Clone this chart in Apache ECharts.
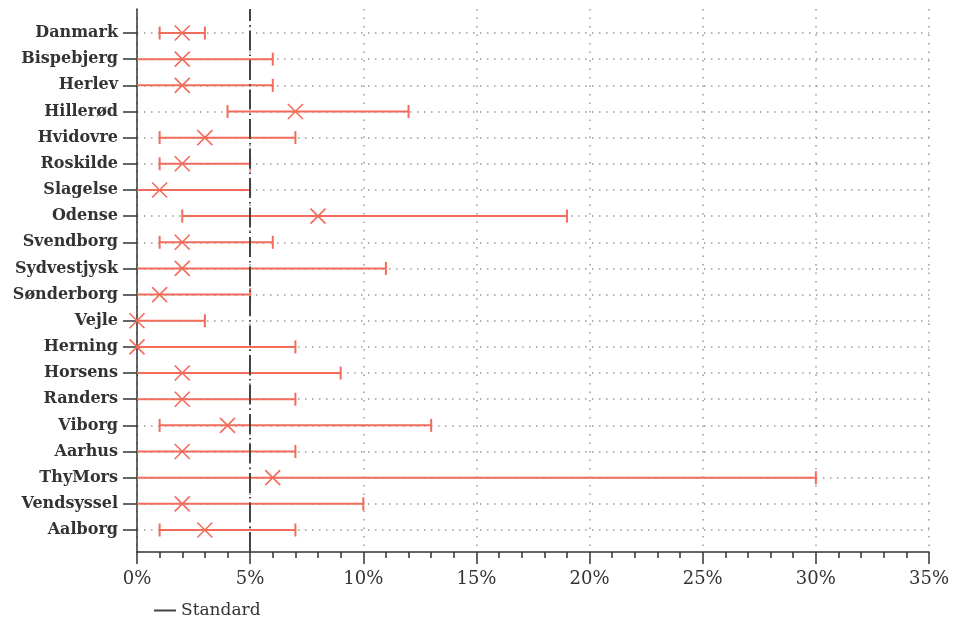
<!DOCTYPE html>
<html>
<head>
<meta charset="utf-8">
<script src="https://cdn.jsdelivr.net/npm/echarts@6/dist/echarts.min.js"></script>
<style>
  html, body { margin: 0; padding: 0; background: #fff; }
  #chart { width: 953px; height: 622px; }
</style>
</head>
<body>
<div id="chart"></div>
<script>
// hospitals, top to bottom
const categories = ["Danmark", "Bispebjerg", "Herlev", "Hillerød", "Hvidovre", "Roskilde", "Slagelse",
  "Odense", "Svendborg", "Sydvestjysk", "Sønderborg", "Vejle", "Herning", "Horsens", "Randers",
  "Viborg", "Aarhus", "ThyMors", "Vendsyssel", "Aalborg"]
// percent values
const lowValues = [1, 0, 0, 4, 1, 1, 0, 2, 1, 0, 0, 0, 0, 0, 0, 1, 0, 0, 0, 1]
const midValues = [2, 2, 2, 7, 3, 2, 1, 8, 2, 2, 1, 0, 0, 2, 2, 4, 2, 6, 2, 3]
const highValues = [3, 6, 6, 12, 7, 5, 5, 19, 6, 11, 5, 3, 7, 9, 7, 13, 7, 30, 10, 7]
const standardValue = 5
const xTicks = [0, 35, 5] // min, max, step

const red = "#f26b5b"
const font = "DejaVu Serif"

const chart = echarts.init(document.getElementById("chart"))

const barData = categories.map((c, i) => [i, lowValues[i], midValues[i], highValues[i]])

const option = {
  backgroundColor: "#fff",
  animation: false,
  legend: {
    left: 148,
    top: 597,
    itemWidth: 22,
    itemHeight: 2,
    textStyle: { fontFamily: font, fontSize: 17, color: "#333" },
    data: ["Standard"]
  },
  grid: [
    { left: 137, right: 24, top: 33, height: 497 },
    { left: 137, right: 24, top: 9, height: 543 }
  ],
  xAxis: [
    { gridIndex: 0, type: "value", min: xTicks[0], max: xTicks[1], show: false },
    {
      gridIndex: 1,
      type: "value",
      min: xTicks[0],
      max: xTicks[1],
      interval: xTicks[2],
      axisLine: { show: true, lineStyle: { color: "#333", width: 1.5 } },
      axisTick: { show: true, length: 12, lineStyle: { color: "#333", width: 1.5 } },
      minorTick: { show: true, splitNumber: 5, length: 6, lineStyle: { color: "#333", width: 1.5 } },
      axisLabel: {
        formatter: "{value}%",
        fontFamily: font,
        fontSize: 18,
        color: "#333",
        margin: 18
      },
      splitLine: { show: true, lineStyle: { color: "#999", width: 1.5, type: [1.5, 7] } }
    }
  ],
  yAxis: [
    {
      gridIndex: 0,
      type: "category",
      data: categories,
      inverse: true,
      boundaryGap: false,
      axisLine: { show: false },
      axisTick: { show: true, length: 14, lineStyle: { color: "#333", width: 1.5 } },
      axisLabel: {
        fontFamily: font,
        fontSize: 16,
        fontWeight: "bold",
        color: "#333",
        margin: 19
      },
      splitLine: { show: true, lineStyle: { color: "#999", width: 1.5, type: [1.5, 5.5] } }
    },
    {
      gridIndex: 1,
      type: "value",
      min: 0,
      max: 1,
      axisLine: { show: true, lineStyle: { color: "#333", width: 1.5 } },
      axisTick: { show: false },
      axisLabel: { show: false },
      splitLine: { show: false }
    }
  ],
  series: [
    {
      name: "Interval",
      type: "custom",
      xAxisIndex: 0,
      yAxisIndex: 0,
      data: barData,
      z: 3,
      renderItem: function (params, api) {
        const lo = api.coord([api.value(1), api.value(0)])
        const mid = api.coord([api.value(2), api.value(0)])
        const hi = api.coord([api.value(3), api.value(0)])
        const cap = 6.5
        const s = 7.5
        const style = { stroke: red, lineWidth: 2 }
        const children = [
          { type: "line", shape: { x1: lo[0], y1: lo[1], x2: hi[0], y2: hi[1] }, style: style },
          { type: "line", shape: { x1: hi[0], y1: hi[1] - cap, x2: hi[0], y2: hi[1] + cap }, style: style },
          { type: "line", shape: { x1: mid[0] - s, y1: mid[1] - s, x2: mid[0] + s, y2: mid[1] + s }, style: { stroke: red, lineWidth: 1.6 } },
          { type: "line", shape: { x1: mid[0] - s, y1: mid[1] + s, x2: mid[0] + s, y2: mid[1] - s }, style: { stroke: red, lineWidth: 1.6 } }
        ]
        if (api.value(1) > 0) {
          children.push({ type: "line", shape: { x1: lo[0], y1: lo[1] - cap, x2: lo[0], y2: lo[1] + cap }, style: style })
        }
        return { type: "group", children: children }
      }
    },
    {
      name: "Standard",
      type: "line",
      xAxisIndex: 1,
      yAxisIndex: 1,
      data: [],
      symbol: "none",
      color: "#444",
      lineStyle: { color: "#444", width: 2 },
      z: 5,
      markLine: {
        silent: true,
        symbol: "none",
        label: { show: false },
        lineStyle: { color: "#444", width: 2, type: [20, 4, 1.5, 4] },
        data: [{ xAxis: standardValue }]
      }
    }
  ]
}

chart.setOption(option)
</script>
</body>
</html>
